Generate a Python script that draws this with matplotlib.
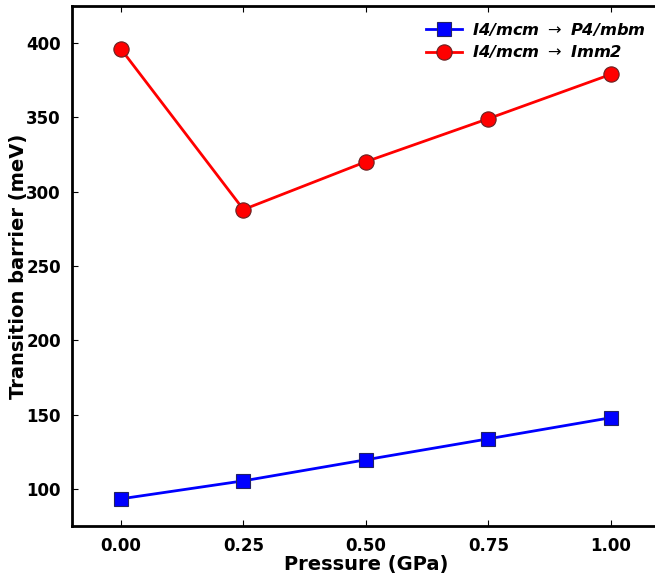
import matplotlib
matplotlib.use("Agg")
import matplotlib.pyplot as plt

pressure = [0.00, 0.25, 0.50, 0.75, 1.00]
barrier_p4mbm = [93.3, 105.4, 119.6, 133.7, 147.9]
barrier_imm2 = [396.0, 288.0, 320.2, 349.2, 379.0]
xticks = [0.00, 0.25, 0.50, 0.75, 1.00]
yticks = [100, 150, 200, 250, 300, 350, 400]

fig = plt.figure(figsize=(6.55, 5.75), dpi=100)
ax = fig.add_axes([0.1099, 0.0852, 0.8977, 0.9044])

ax.plot(pressure, barrier_p4mbm, color='blue', lw=2, marker='s', ms=10,
        mec='#222266', mew=0.8, label=r'I4/mcm $\rightarrow$ P4/mbm')
ax.plot(pressure, barrier_imm2, color='red', lw=2, marker='o', ms=11,
        mec='#662222', mew=0.8, label=r'I4/mcm $\rightarrow$ Imm2')

ax.set_xlim(-0.1, 1.1)
ax.set_ylim(75, 425)
ax.set_xticks(xticks)
ax.set_yticks(yticks)
ax.set_xticklabels(['%.2f' % v for v in xticks], fontsize=12, fontweight='bold')
ax.set_yticklabels([str(v) for v in yticks], fontsize=12, fontweight='bold')
ax.tick_params(direction='in', top=True, right=False, length=4, width=0.8, pad=8)
for sp in ax.spines.values():
    sp.set_linewidth(2)

ax.set_xlabel('Pressure (GPa)', fontsize=14, fontweight='bold', labelpad=0)
ax.set_ylabel('Transition barrier (meV)', fontsize=14, fontweight='bold', labelpad=-1)

leg = ax.legend(loc='upper right', bbox_to_anchor=(1.0, 1.0), frameon=False,
                prop={'size': 11.7, 'weight': 'bold', 'style': 'italic'},
                handlelength=2.2, handletextpad=0.6, borderaxespad=0.5,
                labelspacing=0.35)

fig.savefig('out.png', dpi=100)
